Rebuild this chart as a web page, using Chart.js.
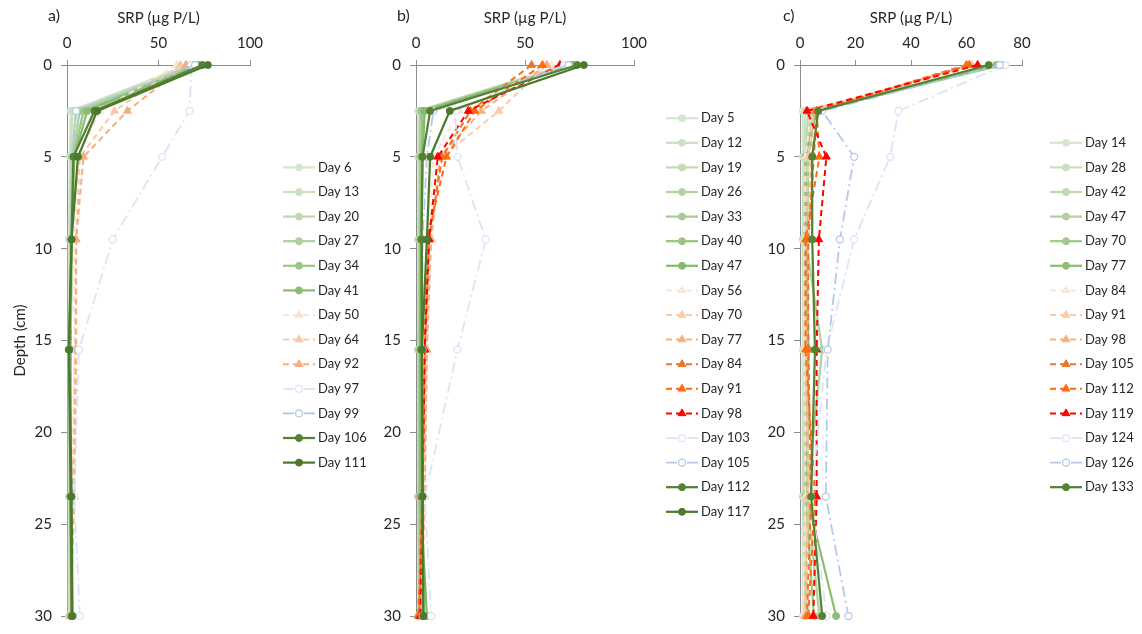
<!DOCTYPE html>
<html>
<head>
<meta charset="utf-8">
<script src="https://cdn.jsdelivr.net/npm/chart.js@4.4.1/dist/chart.umd.min.js"></script>
<style>
  body { margin: 0; background: #fff; }
  #wrap { position: relative; width: 1142px; height: 634px; overflow: hidden; font-family: Lato, sans-serif; }
  #wrap canvas { position: absolute; top: 0; }
  .tag { position: absolute; top: 5px; font-size: 16px; color: #262626; }
</style>
</head>
<body>
<div id="wrap">
  <canvas id="chart-a" width="380" height="634" style="left:0"></canvas>
  <canvas id="chart-b" width="380" height="634" style="left:380px"></canvas>
  <canvas id="chart-c" width="382" height="634" style="left:760px"></canvas>
  <div class="tag" style="left:48px">a)</div>
  <div class="tag" style="left:397px">b)</div>
  <div class="tag" style="left:783px">c)</div>
</div>
<script>
// ── Data ─────────────────────────────────────────────────────────────────────
const depths = [0, 2.5, 5, 9.5, 15.5, 23.5, 30]

// panel a
const daysA = [6, 13, 20, 27, 34, 41, 50, 64, 92, 97, 99, 106, 111]
const srpA = [
  [66, 2, 1.5, 1, 1, 1, 1],
  [68, 3, 2, 1.5, 1, 1.5, 1.5],
  [69, 5, 2.5, 2, 1.5, 1.5, 2],
  [70, 7, 3, 2, 1.5, 2, 2],
  [71, 9, 3.5, 2.5, 2, 2, 2.5],
  [72, 11, 4, 2.5, 2, 2, 2.5],
  [60, 18, 6, 4, 4, 3, 2],
  [62, 26, 7, 5, 4.5, 3, 1.5],
  [65, 33, 9, 5, 5, 4, 2],
  [68, 67, 52, 25, 6.5, 4, 7],
  [70, 5, 3, 2, 2, 2, 3],
  [74, 15, 3.5, 2.5, 1, 2, 2.5],
  [77, 16.5, 6, 2.5, 1.2, 2.5, 3],
]
const kindsA = ['g', 'g', 'g', 'g', 'g', 'g', 'o', 'o', 'o', 'b', 'b', 'g', 'g']
const colorsA = ['#d6e7cc', '#cbe0be', '#bed9af', '#aed09c', '#9dc789', '#89bd70',
  '#fbe2d1', '#f8c9a8', '#f4ae80', '#dae4f5', '#b0c6ea', '#548235', '#4b7a2d']

// panel b
const daysB = [5, 12, 19, 26, 33, 40, 47, 56, 70, 77, 84, 91, 98, 103, 105, 112, 117]
const srpB = [
  [68, 1, 1, 1, 1, 1, 1],
  [69, 1.5, 1.5, 1, 1, 1, 1],
  [70, 2, 1.5, 1.5, 1, 1, 1.5],
  [70, 2, 2, 1.5, 1.5, 1.5, 1.5],
  [71, 2.5, 2, 2, 1.5, 1.5, 2],
  [72, 3, 2.5, 2, 2, 2, 2],
  [72, 4, 3, 2.5, 2, 2, 5],
  [62, 20, 8, 6, 4, 3, 2],
  [60, 38, 12, 6, 5, 4, 2],
  [60, 30, 11, 7, 5, 4, 2.5],
  [53, 25, 12, 6, 4, 3, 1.5],
  [58, 27, 14, 5, 4, 3, 1],
  [66, 24, 10, 6, 4, 3, 2],
  [68, 18, 19, 32, 19, 4, 7],
  [70, 8, 5, 3, 3, 3, 3],
  [74, 6.5, 3, 2.5, 2.7, 3, 3.4],
  [77, 15.5, 6.5, 5, 2.7, 3, 3.4],
]
const kindsB = ['g', 'g', 'g', 'g', 'g', 'g', 'g', 'o', 'o', 'o', 'o', 'o', 'o', 'b', 'b', 'g', 'g']
const colorsB = ['#d6e7cc', '#cde1c1', '#c3dbb4', '#b4d3a3', '#a7cc94', '#98c481', '#84ba69',
  '#fbe5d6', '#f8cbad', '#f4b183', '#e8772e', '#ff6a10', '#ff0000', '#dae4f5', '#b4c8ea', '#548235', '#4b7a2d']

// panel c
const daysC = [14, 28, 42, 47, 70, 77, 84, 91, 98, 105, 112, 119, 124, 126, 133]
const srpC = [
  [70, 1, 1, 1, 1, 1, 1],
  [71, 2, 1.5, 1, 1.5, 1, 3],
  [72, 3, 2, 1.5, 2, 1.5, 2],
  [72, 4, 2.5, 2, 8, 2.5, 7],
  [73, 5, 3, 2.5, 3, 2, 5],
  [71, 6, 2, 2, 3, 2.5, 13],
  [61, 4, 2, 1.5, 1.5, 2, 1],
  [62, 5, 3, 2, 2, 3, 1.5],
  [60, 5, 4, 3, 2.5, 3, 2],
  [60, 6, 5, 3, 3, 4, 2.5],
  [61, 6, 7, 2, 2, 5.4, 3],
  [64, 2.5, 9.5, 6.8, 6, 6, 4.8],
  [74, 35.5, 32.5, 19.5, 9.6, 4, 9.6],
  [72, 8, 19.5, 14.4, 10, 9.3, 17.4],
  [68, 6.6, 4.4, 4.4, 5.4, 4, 8],
]
const kindsC = ['g', 'g', 'g', 'g', 'g', 'g', 'o', 'o', 'o', 'o', 'o', 'o', 'b', 'b', 'g']
const colorsC = ['#d6e7cc', '#cbe0be', '#bed9af', '#b0d29f', '#a0c98c', '#8cbe74',
  '#fbe5d6', '#f8cbad', '#f4b183', '#e8772e', '#ff6a10', '#ff0000', '#dae4f5', '#b4c8ea', '#548235']

// ── Shared look ──────────────────────────────────────────────────────────────
const TEXT = '#262626'
const AXIS = '#8c8c8c'
Chart.defaults.font.family = 'Lato, sans-serif'
Chart.defaults.font.size = 15
Chart.defaults.color = TEXT

function seriesStyle(kind, color) {
  if (kind === 'o') return {
    borderColor: color, backgroundColor: color, borderWidth: 2, borderDash: [6, 4],
    pointStyle: 'triangle', pointRadius: 4.5, pointBorderWidth: 1,
    pointBackgroundColor: color, pointBorderColor: color,
  }
  if (kind === 'b') return {
    borderColor: color, backgroundColor: '#fff', borderWidth: 1.75, borderDash: [11, 4, 2, 4],
    pointStyle: 'circle', pointRadius: 3.5, pointBorderWidth: 1.25,
    pointBackgroundColor: '#fff', pointBorderColor: color,
  }
  return {
    borderColor: color, backgroundColor: color, borderWidth: 2.25, borderDash: [],
    pointStyle: 'circle', pointRadius: 3.5, pointBorderWidth: 1,
    pointBackgroundColor: color, pointBorderColor: color,
  }
}

function buildDatasets(days, srp, kinds, colors) {
  return days.map((d, i) => ({
    label: 'Day ' + d,
    data: srp[i].map((v, k) => ({ x: v, y: depths[k] })),
    showLine: true,
    clip: false,
    order: -i,   // later series on top, like the original
    ...seriesStyle(kinds[i], colors[i]),
  }))
}

// ── Legend drawn beside the plot: line + marker + text ───────────────────────
function sideLegend(x0, centerY) {
  return {
    id: 'sideLegend',
    afterDraw(chart) {
      const ctx = chart.ctx
      const sets = chart.data.datasets
      const step = 24.6
      const top = centerY - (sets.length - 1) * step / 2
      sets.forEach((ds, i) => {
        const y = top + i * step
        ctx.save()
        ctx.strokeStyle = ds.borderColor
        ctx.lineWidth = ds.borderWidth
        ctx.setLineDash(ds.borderDash)
        ctx.beginPath()
        ctx.moveTo(x0, y)
        ctx.lineTo(x0 + 32, y)
        ctx.stroke()
        ctx.setLineDash([])
        ctx.fillStyle = ds.pointBackgroundColor
        ctx.strokeStyle = ds.pointBorderColor
        ctx.lineWidth = ds.pointBorderWidth
        Chart.helpers.drawPoint(ctx, {
          pointStyle: ds.pointStyle, radius: ds.pointRadius, borderWidth: ds.pointBorderWidth, rotation: 0,
        }, x0 + 16, y)
        ctx.fillStyle = TEXT
        ctx.font = '13px Lato, sans-serif'
        ctx.textBaseline = 'middle'
        ctx.fillText(ds.label, x0 + 35, y)
        ctx.restore()
      })
    },
  }
}

// ── One depth-profile panel ──────────────────────────────────────────────────
function buildPanel(id, datasets, opt) {
  const ctx = document.getElementById(id).getContext('2d')
  return new Chart(ctx, {
    type: 'scatter',
    data: { datasets },
    options: {
      responsive: false,
      animation: false,
      layout: { padding: { left: 0, top: 0, right: opt.padRight, bottom: 11 } },
      plugins: { legend: { display: false }, tooltip: { enabled: false } },
      scales: {
        x: {
          type: 'linear', position: 'top', min: 0, max: opt.xMax,
          ticks: { stepSize: opt.xStep, padding: 8, color: TEXT },
          grid: { drawOnChartArea: false, drawTicks: true, tickLength: 5, color: AXIS },
          border: { color: AXIS, width: 1 },
          title: { display: true, text: 'SRP (µg P/L)', color: TEXT, font: { size: 15 }, padding: { top: 9, bottom: 0 } },
          afterFit: s => { s.height = 65 },
        },
        y: {
          type: 'linear', position: 'left', reverse: true, min: 0, max: 30,
          ticks: { stepSize: 5, padding: 9, color: TEXT },
          grid: { drawOnChartArea: false, drawTicks: true, tickLength: 6, color: AXIS },
          border: { color: AXIS, width: 1 },
          title: { display: opt.yTitle, text: 'Depth (cm)', color: TEXT, font: { size: 15 }, padding: { top: 11, bottom: 0 } },
          afterFit: s => { s.width = opt.yWidth },
        },
      },
    },
    plugins: [sideLegend(opt.legendX, 315)],
  })
}

buildPanel('chart-a', buildDatasets(daysA, srpA, kindsA, colorsA),
  { xMax: 100, xStep: 50, yWidth: 67, padRight: 130, yTitle: true, legendX: 283 })
buildPanel('chart-b', buildDatasets(daysB, srpB, kindsB, colorsB),
  { xMax: 100, xStep: 50, yWidth: 36, padRight: 126, yTitle: false, legendX: 286 })
buildPanel('chart-c', buildDatasets(daysC, srpC, kindsC, colorsC),
  { xMax: 80, xStep: 20, yWidth: 40, padRight: 120, yTitle: false, legendX: 290 })
</script>
</body>
</html>
